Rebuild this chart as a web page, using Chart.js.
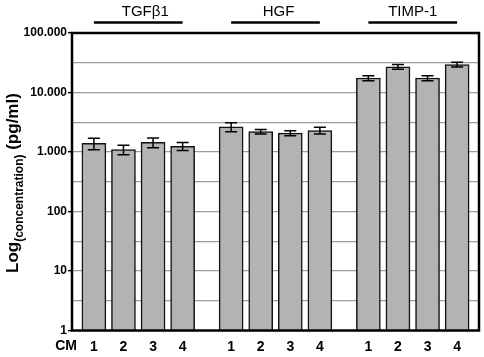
<!DOCTYPE html>
<html>
<head>
<meta charset="utf-8">
<script src="https://cdn.jsdelivr.net/npm/chart.js@4.4.1/dist/chart.umd.min.js"></script>
<style>
html,body{margin:0;padding:0;background:#fff;}
#wrap{width:484px;height:357px;position:relative;}
</style>
</head>
<body>
<div id="wrap"><canvas id="c" width="484" height="357"></canvas></div>
<script>
// ---- data ----
const groups = ['TGFβ1', 'HGF', 'TIMP-1'];
const cmLabels = ['1', '2', '3', '4'];
const tgfValues = [1400, 1100, 1450, 1250];
const tgfErrors = [310, 200, 270, 190];
const hgfValues = [2650, 2200, 2080, 2300];
const hgfErrors = [450, 200, 200, 300];
const timpValues = [17500, 27000, 17500, 29500];
const timpErrors = [1700, 2500, 1700, 2700];
const yTickValues = [1, 10, 100, 1000, 10000, 100000];
const yTickLabels = ['1', '10', '100', '1.000', '10.000', '100.000'];
const xAxisName = 'CM';

// ---- layout constants ----
const FONT = "'Liberation Sans', Arial, sans-serif";
const GROUP_STEP = 4.64;
const SIDE = 0.74;
const LABEL_SHIFT = [7, 3, 0];

const groupValues = [tgfValues, hgfValues, timpValues];
const groupErrors = [tgfErrors, hgfErrors, timpErrors];
const points = [];
const errs = [];
const xPositions = [];
const xLabelList = [];
groupValues.forEach((vals, g) => {
  vals.forEach((v, i) => {
    const x = g * GROUP_STEP + i;
    points.push({x: x, y: v});
    errs.push(groupErrors[g][i]);
    xPositions.push(x);
    xLabelList.push(cmLabels[i]);
  });
});
const xMax = (groups.length - 1) * GROUP_STEP + (cmLabels.length - 1) + SIDE;

// half-decade grid positions
const gridVals = [];
for (let k = 0; k < yTickValues.length; k++) {
  gridVals.push(yTickValues[k]);
  if (k < yTickValues.length - 1) gridVals.push(Math.sqrt(yTickValues[k] * yTickValues[k + 1]));
}
const isDecade = v => yTickValues.some(d => Math.abs(d - v) / d < 1e-6);

const overlay = {
  id: 'overlay',
  afterDatasetsDraw(chart) {
    const ctx = chart.ctx;
    const xs = chart.scales.x, ys = chart.scales.y;
    ctx.save();
    ctx.strokeStyle = '#000';
    ctx.lineWidth = 1.5;
    points.forEach((p, i) => {
      const px = xs.getPixelForValue(p.x);
      const yt = ys.getPixelForValue(p.y + errs[i]);
      const yb = ys.getPixelForValue(p.y - errs[i]);
      ctx.beginPath();
      ctx.moveTo(px, yt); ctx.lineTo(px, yb);
      ctx.moveTo(px - 6, yt); ctx.lineTo(px + 6, yt);
      ctx.moveTo(px - 6, yb); ctx.lineTo(px + 6, yb);
      ctx.stroke();
    });
    ctx.restore();
  },
  afterDraw(chart) {
    const ctx = chart.ctx;
    const a = chart.chartArea;
    const xs = chart.scales.x;
    ctx.save();
    ctx.strokeStyle = '#000';
    ctx.lineWidth = 2.5;
    ctx.strokeRect(a.left, a.top, a.right - a.left, a.bottom - a.top);
    groups.forEach((name, g) => {
      const x1 = xs.getPixelForValue(g * GROUP_STEP);
      const x2 = xs.getPixelForValue(g * GROUP_STEP + cmLabels.length - 1);
      ctx.lineWidth = 2.5;
      ctx.beginPath();
      ctx.moveTo(x1, 22.5); ctx.lineTo(x2, 22.5);
      ctx.stroke();
      ctx.fillStyle = '#000';
      ctx.font = '15px ' + FONT;
      ctx.textAlign = 'center';
      ctx.textBaseline = 'alphabetic';
      ctx.fillText(name, (x1 + x2) / 2 + LABEL_SHIFT[g], 15.5);
    });
    ctx.font = 'bold 14px ' + FONT;
    ctx.textAlign = 'right';
    ctx.textBaseline = 'middle';
    ctx.fillText(xAxisName, 77, 346);
    ctx.translate(18, 273);
    ctx.rotate(-Math.PI / 2);
    ctx.textAlign = 'left';
    ctx.textBaseline = 'alphabetic';
    ctx.font = 'bold 17px ' + FONT;
    let t = 'Log';
    ctx.fillText(t, 0, 0);
    let w = ctx.measureText(t).width;
    ctx.font = 'bold 12px ' + FONT;
    t = '(concentration)';
    ctx.fillText(t, w, 5);
    w += ctx.measureText(t).width;
    ctx.font = 'bold 17px ' + FONT;
    ctx.fillText(' (pg/ml)', w, 0);
    ctx.restore();
  }
};

new Chart(document.getElementById('c'), {
  type: 'bar',
  data: {
    datasets: [{
      data: points,
      backgroundColor: '#b3b3b3',
      borderColor: '#111',
      borderWidth: 1.5,
      barThickness: 24
    }]
  },
  options: {
    responsive: false,
    animation: false,
    devicePixelRatio: 1,
    layout: {padding: {top: 33, right: 5, left: 0, bottom: 0}},
    plugins: {legend: {display: false}, tooltip: {enabled: false}},
    scales: {
      x: {
        type: 'linear',
        offset: false,
        min: -SIDE,
        max: xMax,
        grid: {display: false, drawTicks: false},
        border: {display: false},
        afterBuildTicks(scale) { scale.ticks = xPositions.map(v => ({value: v})); },
        afterFit(scale) { scale.height = 26.5; },
        ticks: {
          autoSkip: false,
          maxRotation: 0,
          padding: 8,
          color: '#000',
          font: {family: FONT, size: 14, weight: 'bold'},
          callback: (v, i) => xLabelList[i]
        }
      },
      y: {
        type: 'logarithmic',
        min: 1,
        max: 100000,
        border: {display: false},
        grid: {
          color: '#9d9d9d',
          lineWidth: 1.3,
          drawTicks: true,
          tickLength: 4,
          tickWidth: 1.5,
          tickColor: c => (c.tick && isDecade(c.tick.value)) ? '#000' : 'rgba(0,0,0,0)'
        },
        afterBuildTicks(scale) { scale.ticks = gridVals.map(v => ({value: v})); },
        afterFit(scale) { scale.width = 72; },
        ticks: {
          autoSkip: false,
          padding: 1,
          color: '#000',
          font: {family: FONT, size: 12, weight: 'bold'},
          callback: v => {
            const k = yTickValues.findIndex(d => Math.abs(d - v) / d < 1e-6);
            return k >= 0 ? yTickLabels[k] : '';
          }
        }
      }
    }
  },
  plugins: [overlay]
});
</script>
</body>
</html>
